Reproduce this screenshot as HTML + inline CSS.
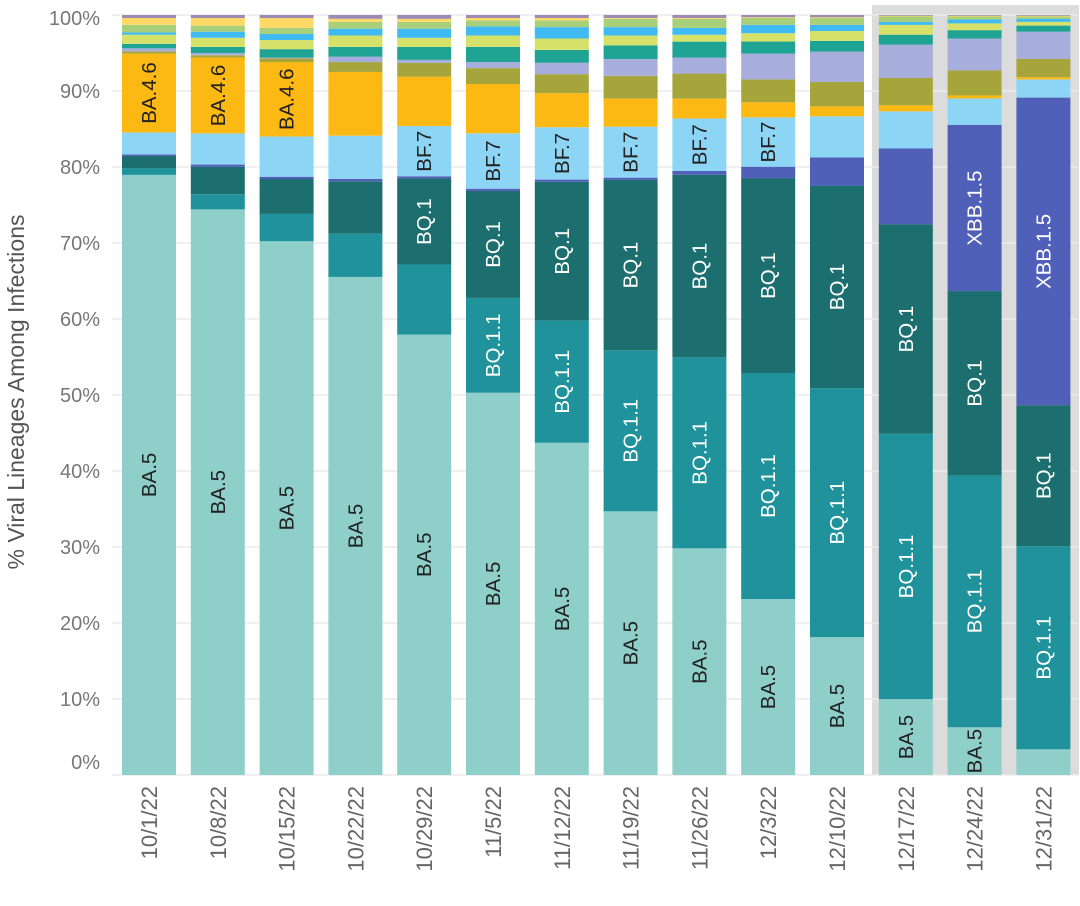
<!DOCTYPE html>
<html><head><meta charset="utf-8"><style>
body{margin:0;background:#fff;}
svg{display:block;font-family:"Liberation Sans",sans-serif;}
</style></head><body>
<svg id="chart" width="1080" height="906">
<rect x="872" y="5" width="207" height="770" fill="#dcdcdc"/>
<text transform="translate(24,392) rotate(-90)" text-anchor="middle" font-size="23" fill="#555">% Viral Lineages Among Infections</text>
<g id="grid"></g><g id="bars"></g><g id="labels"></g><g id="xaxis"></g>
</svg>
<script>
const categories=["10/1/22","10/8/22","10/15/22","10/22/22","10/29/22","11/5/22","11/12/22","11/19/22","11/26/22","12/3/22","12/10/22","12/17/22","12/24/22","12/31/22"];
const seriesNames=["BA.5","BQ.1.1","BQ.1","XBB.1.5","BF.7","BA.4.6","BN.1","XBB","BA.2.75","BA.5.2.6","BA.4.6.3","BA.2.75.2","BA.2","Other"];
const BA5=[79.2,74.5,70.3,65.6,57.9,50.4,43.8,34.7,29.8,23.2,18.1,10.0,6.3,3.4];
const BQ11=[0.9,2.0,3.6,5.7,9.2,12.5,16.1,21.2,25.1,29.8,32.7,35.0,33.2,26.8];
const BQ1=[1.6,3.6,4.6,6.9,11.3,14.1,18.3,22.4,24.0,25.7,26.6,27.6,24.3,18.6];
const XBB15=[0.2,0.3,0.3,0.3,0.3,0.3,0.3,0.3,0.5,1.5,3.7,10.0,21.9,40.6];
const BF7=[2.9,4.1,5.3,5.7,6.6,7.3,6.9,6.7,6.9,6.5,5.4,4.9,3.5,2.4];
const BA46=[10.4,10.0,9.8,8.4,6.5,6.5,4.5,3.7,2.6,2.0,1.3,0.8,0.4,0.3];
const olive=[0.3,0.3,0.5,1.3,1.8,2.1,2.5,3.0,3.3,3.0,3.2,3.6,3.3,2.4];
const lavender=[0.4,0.3,0.1,0.7,0.4,0.8,1.5,2.2,2.1,3.4,4.0,4.4,4.2,3.6];
const teal=[0.6,0.8,1.1,1.3,1.7,2.0,1.7,1.8,2.1,1.6,1.4,1.3,1.1,0.8];
const yellowGreen=[1.2,1.2,1.2,1.5,1.2,1.5,1.5,1.3,0.9,1.1,1.3,1.3,0.9,0.5];
const skyBlue=[0.3,0.8,0.8,0.9,1.2,1.2,1.5,1.1,0.9,1.1,0.8,0.4,0.5,0.4];
const lightGreen=[1.0,0.8,0.8,0.9,0.9,0.8,0.9,1.1,1.2,0.9,0.9,0.7,0.4,0.3];
const paleYellow=[0.9,1.0,1.3,0.4,0.4,0.3,0.3,0.1,0.1,0.1,0.1,0.1,0.1,0.1];
const purple=[0.4,0.4,0.4,0.5,0.5,0.4,0.4,0.4,0.4,0.3,0.3,0.1,0.1,0.1];
const series=[BA5,BQ11,BQ1,XBB15,BF7,BA46,olive,lavender,teal,yellowGreen,skyBlue,lightGreen,paleYellow,purple];
const colors=["#8ecfc9","#1f929b","#1c6e6f","#5060b8","#8dd5f5","#fdb913","#a6a53c","#a7aedb","#1fa393","#d6e16a","#3fbaf2","#a8cf7a","#ffd966","#9e8bb5"];
const labelColors=["#222","#fff","#fff","#fff","#222","#222"];
const labelBars=[[0,1,2,3,4,5,6,7,8,9,10,11,12],[5,6,7,8,9,10,11,12,13],[4,5,6,7,8,9,10,11,12,13],[12,13],[4,5,6,7,8,9],[0,1,2]];
const yTicks=[0,10,20,30,40,50,60,70,80,90,100];
const NS="http://www.w3.org/2000/svg";
const y0=775,pxPer=7.6;
function yScale(v){return y0-v*pxPer;}
function xScale(i){return 122+i*68.8;}
const bw=54;
function mk(tag,attrs,parent){const e=document.createElementNS(NS,tag);for(const k in attrs)e.setAttribute(k,attrs[k]);document.getElementById(parent).appendChild(e);return e;}
yTicks.forEach(t=>{
  const g=mk('line',{x1:112,x2:1078,y1:yScale(t),y2:yScale(t),stroke:'#ececec','stroke-width':1.5},'grid');
  
  
  const off=t===0?-6:(t===100?10:7);
  const tx=mk('text',{x:100,y:yScale(t)+off,'text-anchor':'end','font-size':20,fill:'#777'},'grid');
  tx.textContent=t+'%';
  
  
});
categories.forEach((c,i)=>{
  const tot=series.reduce((s,a)=>s+a[i],0);
  let acc=0;
  series.forEach((arr,si)=>{
    const v=arr[i]*100/tot;
    const top=yScale(acc+v),bot=yScale(acc);
    const r=mk('rect',{x:xScale(i),y:top,width:bw,height:bot-top,fill:colors[si]},'bars');
    
    
    if(si<labelBars.length&&labelBars[si].includes(i)){
      const cy=(top+bot)/2,cx=xScale(i)+bw/2;
      const t=mk('text',{transform:`translate(${cx+7},${cy}) rotate(-90)`,'text-anchor':'middle','font-size':20.5,fill:labelColors[si]},'labels');
      t.textContent=seriesNames[si];
      
      
    }
    acc+=v;
  });
  const xl=mk('text',{transform:`translate(${xScale(i)+bw/2+8},786) rotate(-90)`,'text-anchor':'end','font-size':22,fill:'#666'},'xaxis');
  xl.textContent=c;
  
  
});
</script>
</body></html>
